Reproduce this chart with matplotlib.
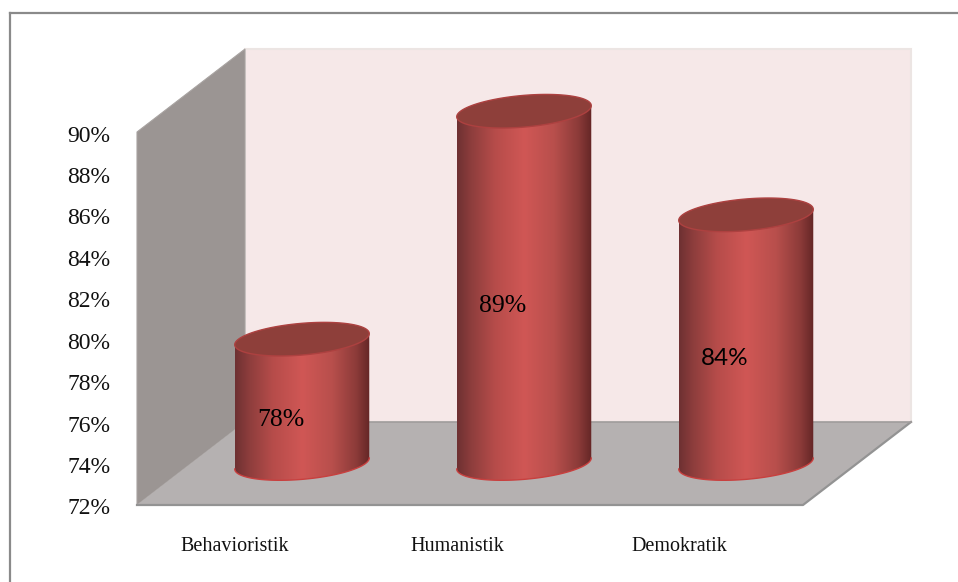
import numpy as np
import matplotlib
matplotlib.use("Agg")
import matplotlib.pyplot as plt
from matplotlib.colors import LinearSegmentedColormap
from matplotlib.lines import Line2D
from matplotlib.patches import Polygon
from matplotlib.transforms import Affine2D

categories = ['Behavioristik', 'Humanistik', 'Demokratik']
values = [78, 89, 84]
y_ticks = [72, 74, 76, 78, 80, 82, 84, 86, 88, 90]

plt.rcParams['font.family'] = ['Liberation Serif', 'DejaVu Serif']

W, H = 958, 582
fig = plt.figure(figsize=(W / 100, H / 100), dpi=100)
ax = fig.add_axes([137 / W, (H - 505) / H, 666 / W, 373 / H])
ax.set_xlim(-0.5, 2.5)
ax.set_ylim(72, 90)

# pixels per data unit, used for the fake 3d depth
sx = 666 / 3
sy = 373 / 18
depth_x = 108 / sx
depth_y = 83 / sy

# walls and floor
left_wall = [(-0.5, 72), (-0.5 + depth_x, 72 + depth_y), (-0.5 + depth_x, 90 + depth_y), (-0.5, 90)]
back_wall = [(-0.5 + depth_x, 72 + depth_y), (2.5 + depth_x, 72 + depth_y),
             (2.5 + depth_x, 90 + depth_y), (-0.5 + depth_x, 90 + depth_y)]
floor = [(-0.5, 72), (2.5, 72), (2.5 + depth_x, 72 + depth_y), (-0.5 + depth_x, 72 + depth_y)]
ax.add_patch(Polygon(back_wall, fc='#f6e8e8', ec='#ece5e3', lw=1.5, clip_on=False, zorder=1))
ax.add_patch(Polygon(left_wall, fc='#9b9593', ec='#a8a3a1', lw=0.8, clip_on=False, zorder=1))
ax.add_patch(Polygon(floor, fc='#b5b1b1', ec='none', clip_on=False, zorder=2))
ax.plot([-0.5, 2.5, 2.5 + depth_x], [72, 72, 72 + depth_y], color='#939393', lw=1.6,
        clip_on=False, zorder=2)
ax.plot([-0.5 + depth_x, 2.5 + depth_x], [72 + depth_y] * 2, color='#a09c9c', lw=1.2,
        clip_on=False, zorder=2)

# cylinders
shade = LinearSegmentedColormap.from_list('cyl', [
    (0.0, '#6e3032'), (0.1, '#8c3d3c'), (0.28, '#b64c4a'), (0.5, '#d05755'),
    (0.72, '#b84f4c'), (0.9, '#8c3b39'), (1.0, '#642626')])
gradient = np.linspace(0, 1, 256).reshape(1, -1)


def ellipse(cx, cy):
    # tilted ellipse, worked out in pixels then put back in data units
    t = np.linspace(0, 2 * np.pi, 241)[:-1]
    a, b, tilt = 67.5, 15.8, np.radians(5.0)
    px = a * np.cos(t) * np.cos(tilt) - b * np.sin(t) * np.sin(tilt)
    py = a * np.cos(t) * np.sin(tilt) + b * np.sin(t) * np.cos(tilt)
    return cx + px / sx, cy + py / sy


for i, v in enumerate(values):
    cx = i + depth_x / 2
    base = 72 + depth_y / 2
    top = v + depth_y / 2
    ex, ey = ellipse(cx, base)
    left, right = int(np.argmin(ex)), int(np.argmax(ex))
    # lower arc of the base ellipse, going from left side to right side
    arc = np.arange(left, right + 241) % 240
    arc = arc[:(right - left) % 240 + 1]
    arc_x, arc_y = ex[arc], ey[arc]
    tx, ty = ellipse(cx, top)
    body = np.column_stack([
        np.r_[arc_x, tx[right], tx[left]],
        np.r_[arc_y, ty[right], ty[left]]])
    clip = Polygon(body, fc='none', ec='none', transform=ax.transData)
    ax.add_patch(clip)
    clip.set_clip_on(False)
    im = ax.imshow(gradient, cmap=shade, aspect='auto', zorder=3,
                   extent=[ex.min(), ex.max(), base - 2, top + 2])
    im.set_clip_box(fig.bbox)
    im.set_clip_path(clip)
    ax.plot(arc_x, arc_y, color='#c8403f', lw=1.0, clip_on=False, zorder=3)
    ax.fill(tx, ty, fc='#8e3f3a', ec='#ad4140', lw=1.0, clip_on=False, zorder=4)
    ax.text(cx - 21 / sx, (base + top) / 2 - 19 / sy, f'{v}%', ha='center', va='center',
            fontsize=17.5 if v == 84 else 18.5, color='black', zorder=5,
            family=['Lato', 'DejaVu Sans'] if v == 84 else ['Liberation Serif', 'DejaVu Serif'])

ax.set_xlim(-0.5, 2.5)
ax.set_ylim(72, 90)

# axis text
ax.set_yticks(y_ticks)
ax.set_yticklabels([f'{t}%' for t in y_ticks], fontsize=17, color='#111111')
ax.set_xticks([i - 13 / sx for i in range(len(categories))])
ax.set_xticklabels(categories, fontsize=14.5, color='#111111')
ax.tick_params(axis='y', length=0, pad=19)
ax.tick_params(axis='x', length=0, pad=23)
for label in ax.get_yticklabels():
    label.set_transform(label.get_transform() + Affine2D().translate(0, -1.5))
for s in ax.spines.values():
    s.set_visible(False)
ax.patch.set_visible(False)

# outer frame, only top and left are in the picture
fig.add_artist(Line2D([10 / W, 1], [1 - 13 / H] * 2, color='#8a8a8a', lw=1.6, transform=fig.transFigure))
fig.add_artist(Line2D([10 / W] * 2, [0, 1 - 13 / H], color='#8a8a8a', lw=1.6, transform=fig.transFigure))

fig.savefig('out.png', dpi=100)
